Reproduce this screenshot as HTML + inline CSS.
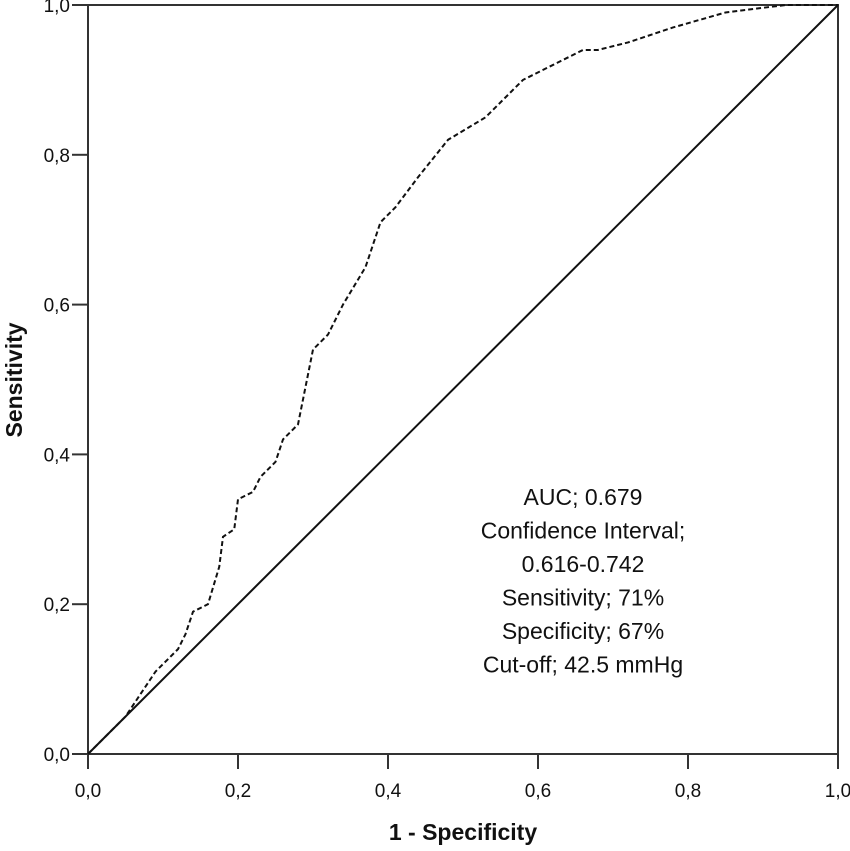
<!DOCTYPE html>
<html><head><meta charset="utf-8"><style>
html,body{margin:0;padding:0;background:#fff;}
svg{display:block;font-family:"Liberation Sans",sans-serif;}
</style></head><body>
<svg id="chart" width="850" height="851"></svg>
<script>
const fprValues=[0,0.02,0.05,0.07,0.09,0.12,0.13,0.14,0.16,0.175,0.18,0.195,0.2,0.22,0.23,0.25,0.26,0.28,0.3,0.32,0.34,0.37,0.39,0.41,0.44,0.48,0.53,0.58,0.62,0.66,0.68,0.72,0.78,0.85,0.93,1];
const tprValues=[0,0.02,0.05,0.08,0.11,0.14,0.16,0.19,0.2,0.25,0.29,0.3,0.34,0.35,0.37,0.39,0.42,0.44,0.54,0.56,0.6,0.65,0.71,0.73,0.77,0.82,0.85,0.9,0.92,0.94,0.94,0.95,0.97,0.99,1,1];
const tickValues=[0,0.2,0.4,0.6,0.8,1.0];
const tickLabels=["0,0","0,2","0,4","0,6","0,8","1,0"];
const annotations=["AUC; 0.679","Confidence Interval;","0.616-0.742","Sensitivity; 71%","Specificity; 67%","Cut-off; 42.5 mmHg"];
const NS="http://www.w3.org/2000/svg";
const svg=document.getElementById('chart');
const x0=88,x1=838,y0=754,y1=5;
const sx=v=>x0+v*(x1-x0), sy=v=>y0-v*(y0-y1);
function mk(t,a,p){const e=document.createElementNS(NS,t);for(const k in a)e.setAttribute(k,a[k]);(p||svg).appendChild(e);return e;}
let e=mk('rect',{x:x0,y:y1,width:x1-x0,height:y0-y1,fill:'none',stroke:'#333','stroke-width':2});

tickValues.forEach((v,i)=>{
  let t=mk('line',{x1:sx(v),x2:sx(v),y1:y0,y2:y0+15,stroke:'#333','stroke-width':2});
  
  let l=mk('text',{x:sx(v),y:y0+43,'text-anchor':'middle','font-size':19,fill:'#111'});l.textContent=tickLabels[i];
  
  let t2=mk('line',{x1:x0-16,x2:x0,y1:sy(v),y2:sy(v),stroke:'#333','stroke-width':2});
  
  let l2=mk('text',{x:x0-18,y:sy(v)+7,'text-anchor':'end','font-size':19,fill:'#111'});l2.textContent=tickLabels[i];
  
});
let d=mk('line',{x1:sx(0),y1:sy(0),x2:sx(1),y2:sy(1),stroke:'#111','stroke-width':2});

let pts=fprValues.map((f,i)=>sx(f)+','+sy(tprValues[i])).join(' ');
let c=mk('polyline',{points:pts,fill:'none',stroke:'#111','stroke-width':2,'stroke-dasharray':'5,3'});

annotations.forEach((s,i)=>{
  let t=mk('text',{x:583,y:505+i*33.5,'text-anchor':'middle','font-size':23,fill:'#111'});t.textContent=s;
  
});
let xt=mk('text',{x:463,y:840,'text-anchor':'middle','font-size':23,'font-weight':'bold',fill:'#111'});xt.textContent='1 - Specificity';

let yt=mk('text',{x:0,y:0,'text-anchor':'middle','font-size':23,'font-weight':'bold',fill:'#111',transform:'translate(22,380) rotate(-90)'});yt.textContent='Sensitivity';

</script>
</body></html>
